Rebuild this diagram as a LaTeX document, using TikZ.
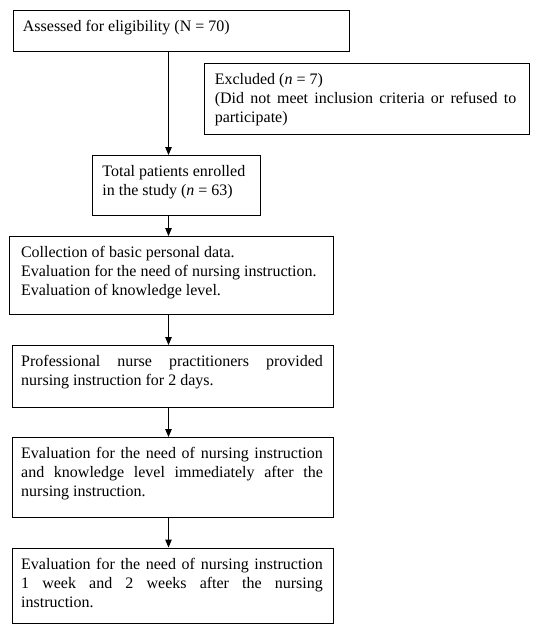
\documentclass[tikz,border=0pt]{standalone}
\usepackage{fontspec}
\setmainfont{Liberation Serif}
\usetikzlibrary{arrows.meta}
\newcommand{\bxt}[5]{\parbox[c][#2][t]{#1}{\fontsize{16}{19}\selectfont\parindent=0pt\leftskip=#3\rightskip=#4\relax\rule{0pt}{21pt}#5}}
\tikzset{
  fb/.style={draw, line width=1pt, anchor=north west, inner sep=0pt},
  arr/.style={line width=1pt, -{Triangle[length=8pt,width=6.5pt]}}
}
\begin{document}
\begin{tikzpicture}[x=1pt,y=-1pt]
\useasboundingbox (0,0) rectangle (540,634);
\coordinate (ax) at (168.5,0);
\node[fb] (b1) at (12.7,10) {\bxt{336pt}{41pt}{9.7pt}{0pt plus 1fil}{Assessed for eligibility (N = 70)}};
\node[fb] (exc) at (204.3,63) {\bxt{324.4pt}{71.3pt}{10pt}{12.9pt}{Excluded (\textit{n} = 7)\\(Did not meet inclusion criteria or refused to\linebreak participate)}};
\node[fb] (tot) at (92.4,155) {\bxt{168pt}{60pt}{9.5pt}{0pt plus 1fil}{Total patients enrolled\\in the study (\textit{n} = 63)}};
\node[fb] (b4) at (9.3,236) {\bxt{324pt}{78pt}{11.2pt}{0pt plus 1fil}{Collection of basic personal data.\\Evaluation for the need of nursing instruction.\\Evaluation of knowledge level.}};
\node[fb] (b5) at (12.3,345) {\bxt{321pt}{61.5pt}{8.4pt}{10.9pt}{Professional nurse practitioners provided\linebreak nursing instruction for 2 days.}};
\node[fb] (b6) at (12.3,437) {\bxt{321pt}{79.5pt}{8.4pt}{10.9pt}{Evaluation for the need of nursing instruction\linebreak and knowledge level immediately after the\linebreak nursing instruction.}};
\node[fb] (b7) at (12.3,547.5) {\bxt{321pt}{75.5pt}{8.4pt}{10.9pt}{Evaluation for the need of nursing instruction\linebreak 1 week and 2 weeks after the nursing\linebreak instruction.}};
\draw[arr] (b1.south -| ax) -- (tot.north -| ax);
\draw[arr] (tot.south -| ax) -- (b4.north -| ax);
\draw[arr] (b4.south -| ax) -- (b5.north -| ax);
\draw[arr] (b5.south -| ax) -- (b6.north -| ax);
\draw[arr] (b6.south -| ax) -- (b7.north -| ax);
\end{tikzpicture}
\end{document}
